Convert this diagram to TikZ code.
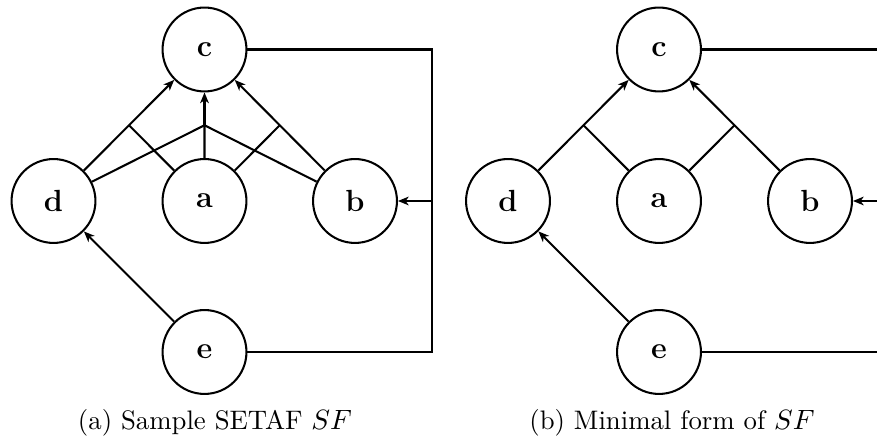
\documentclass[tikz,border=0pt]{standalone}
\usetikzlibrary{arrows.meta,calc}
\begin{document}
\begin{tikzpicture}[x=0.3922pt,y=-0.3922pt,
  arg/.style={circle,draw,line width=0.8pt,minimum size=32.9pt,inner sep=0pt,font=\large\bfseries},
  conn/.style={line width=0.8pt},
  att/.style={line width=0.8pt,-{Stealth[length=4.2pt,width=3.4pt,inset=1.2pt]}},
  captext/.style={font=\fontsize{10.5}{12.5}\selectfont}]
\clip (0,0) rectangle (877,442);
% ---------- left panel ----------
\node[arg] (c) at (204.5,49.5) {c};
\node[arg] (d) at (53.5,201) {d};
\node[arg] (a) at (204.5,201) {a};
\node[arg] (b) at (355,201) {b};
\node[arg] (e) at (204.5,352) {e};
\coordinate (j1) at ($(d)!0.5!(c)$);
\coordinate (j2) at ($(b)!0.5!(c)$);
\coordinate (j3) at ($(a)!0.5!(c)$);
\coordinate (rx) at (432,0);
\draw[att] (d) -- (c);
\draw[conn] (a) -- (j1);
\draw[att] (b) -- (c);
\draw[conn] (a) -- (j2);
\draw[conn] (a) -- (j3);
\draw[att,line width=1.1pt] (j3) -- (c);
\draw[conn] (d) -- (j3);
\draw[conn] (b) -- (j3);
\draw[att] (e) -- (d);
\draw[conn] (c) -- (c -| rx) -- (e -| rx) -- (e);
\draw[att] (b -| rx) -- (b);
\node[captext] (capa) at (215,423) {(a) Sample SETAF $SF$};
% ---------- right panel ----------
\node[arg] (c2) at (659,49.5) {c};
\node[arg] (d2) at (508,201) {d};
\node[arg] (a2) at (659,201) {a};
\node[arg] (b2) at (810,201) {b};
\node[arg] (e2) at (659,352) {e};
\coordinate (k1) at ($(d2)!0.5!(c2)$);
\coordinate (k2) at ($(b2)!0.5!(c2)$);
\coordinate (rx2) at (886.5,0);
\draw[att] (d2) -- (c2);
\draw[conn] (a2) -- (k1);
\draw[att] (b2) -- (c2);
\draw[conn] (a2) -- (k2);
\draw[att] (e2) -- (d2);
\draw[conn] (c2) -- (c2 -| rx2) -- (e2 -| rx2) -- (e2);
\draw[att] (b2 -| rx2) -- (b2);
\node[captext] (capb) at (672,423) {(b) Minimal form of $SF$};
\end{tikzpicture}
\end{document}
